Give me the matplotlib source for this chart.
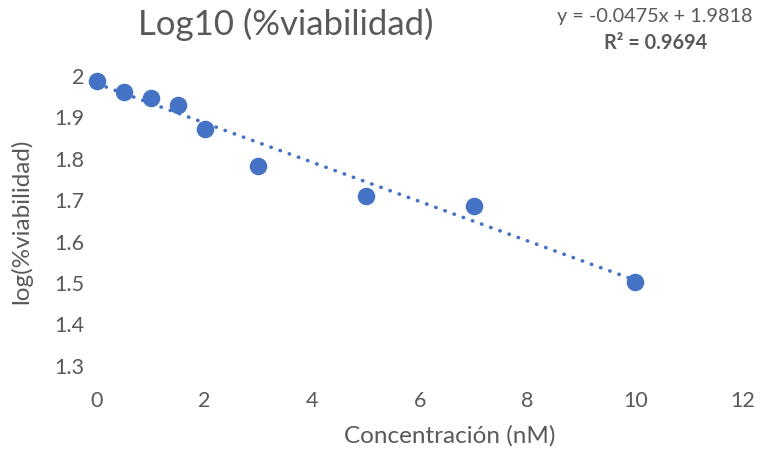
import numpy as np
import matplotlib.pyplot as plt

# datos
concentracion = [0, 0.5, 1, 1.5, 2, 3, 5, 7, 10]
log_viabilidad = [1.987, 1.961, 1.946, 1.931, 1.872, 1.782, 1.711, 1.686, 1.502]

# línea de tendencia (Excel)
pendiente = -0.0475
intercepto = 1.9818
r2 = 0.9694

plt.rcParams['font.family'] = ['Lato', 'DejaVu Sans']
gris = '#595959'
azul = '#4472C4'

fig = plt.figure(figsize=(7.69, 4.5), dpi=100)
ax = fig.add_axes([0.126, 0.187, 0.840, 0.644])

# tendencia
xt = np.array([0, 10])
ax.plot(xt, pendiente * xt + intercepto, color=azul, linestyle=(0, (0.1, 2.6)),
        linewidth=2.6, dash_capstyle='round', zorder=2)

ax.scatter(concentracion, log_viabilidad, s=135, color=azul, zorder=3, clip_on=False)

ax.set_xlim(0, 12)
ax.set_ylim(1.3, 2.0)
ax.set_xticks(range(0, 13, 2))
ax.set_yticks(np.arange(1.3, 2.01, 0.1))
ax.set_yticklabels([f'{v:g}' for v in np.round(np.arange(1.3, 2.01, 0.1), 1)])
for s in ax.spines.values():
    s.set_visible(False)
ax.tick_params(length=0, labelsize=15.5, colors=gris, pad=9)
ax.tick_params(axis='x', pad=18)

ax.set_xlabel('Concentración (nM)', fontsize=17.5, color=gris)
ax.set_ylabel('log(%viabilidad)', fontsize=17.5, color=gris)
ax.xaxis.set_label_coords(0.546, -0.205)
ax.yaxis.set_label_coords(-0.100, 0.5)

fig.text(0.372, 0.945, 'Log10 (%viabilidad)', fontsize=25, color=gris,
         ha='center', va='center')
fig.text(0.852, 0.963, f'y = {pendiente}x + {intercepto}', fontsize=14.3,
         color=gris, ha='center', va='center')
fig.text(0.852, 0.905, f'R² = {r2}', fontsize=14.3, color=gris,
         ha='center', va='center', fontweight='bold')

fig.savefig('out.png', dpi=100)
